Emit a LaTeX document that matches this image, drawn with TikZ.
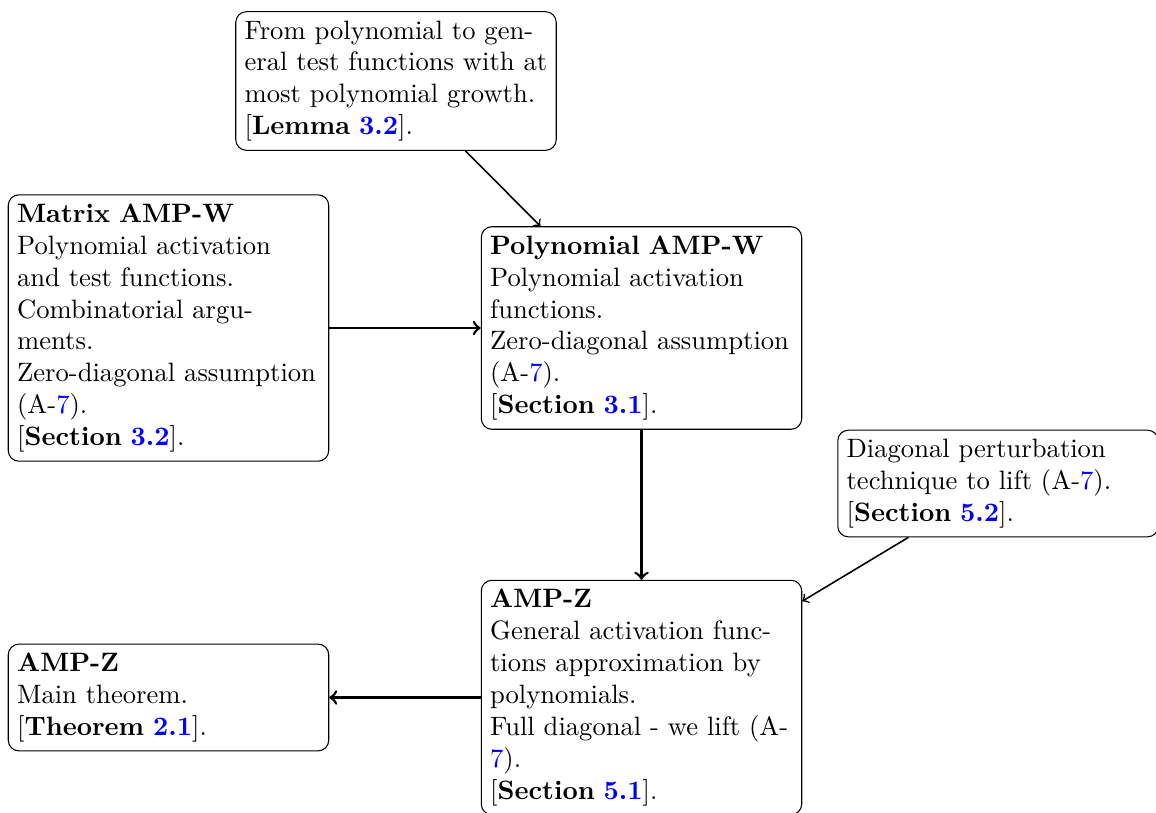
\documentclass[tikz,border=0pt]{standalone}
\usepackage{xcolor}
\newcommand{\lk}[1]{\textcolor{blue}{#1}}
\tikzset{
  box/.style={draw, rounded corners=4pt, text width=4cm, align=left, inner sep=0.3333em},
  mainarrow/.style={->, line width=1pt},
  sidearrow/.style={->, semithick}
}
\begin{document}
\begin{tikzpicture}[x=0.013210cm, y=-0.013210cm]
\useasboundingbox (0,0) rectangle (1156,813);
\node[box] (lemma) at (396,81) {From polynomial to general test functions with at most polynomial growth. {[}\textbf{Lemma \lk{3.2}}].};
\node[box] (matrix) at (168.5,328) {\textbf{Matrix AMP-W}\\ Polynomial activation and test functions.\\ Combinatorial arguments.\\ Zero-diagonal assumption (A-\lk{7}).\\ {[}\textbf{Section \lk{3.2}}].};
\node[box] (poly) at (641.5,328) {\textbf{Polynomial AMP-W}\\ Polynomial activation functions.\\ Zero-diagonal assumption (A-\lk{7}).\\ {[}\textbf{Section \lk{3.1}}].};
\node[box] (diag) at (998,483.5) {Diagonal perturbation technique to lift (A-\lk{7}).\\ {[}\textbf{Section \lk{5.2}}].};
\node[box] (ampz) at (641.5,697.5) {\textbf{AMP-Z}\\ General activation functions approximation by polynomials.\\ Full diagonal - we lift (A-\lk{7}).\\ {[}\textbf{Section \lk{5.1}}].};
\node[box] (main) at (168.5,697.5) {\textbf{AMP-Z}\\ Main theorem.\\ {[}\textbf{Theorem \lk{2.1}}].};
\draw[sidearrow] (lemma) -- (poly);
\draw[mainarrow] (matrix) -- (poly);
\draw[mainarrow] (poly) -- (ampz);
\draw[sidearrow] (diag) -- (ampz);
\draw[mainarrow] (ampz) -- (main);
\end{tikzpicture}
\end{document}
